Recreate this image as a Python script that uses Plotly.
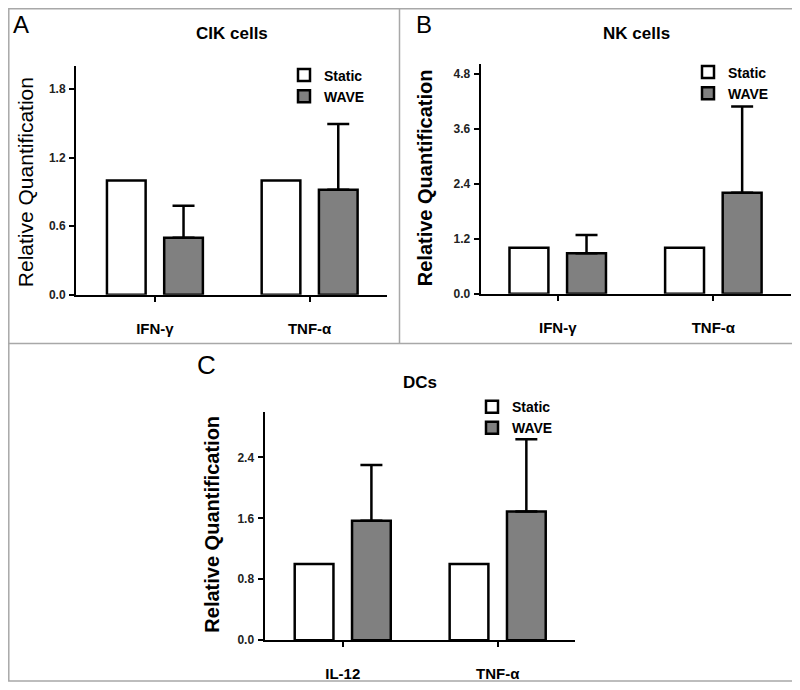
import plotly.graph_objects as go

# ---- data ----
cats_A = ["IFN-γ", "TNF-α"]
static_A = [1.0, 1.0]
wave_A = [0.50, 0.92]
wave_err_A = [0.28, 0.575]

cats_B = ["IFN-γ", "TNF-α"]
static_B = [1.0, 1.0]
wave_B = [0.88, 2.20]
wave_err_B = [0.40, 1.88]

cats_C = ["IL-12", "TNF-α"]
static_C = [1.0, 1.0]
wave_C = [1.57, 1.69]
wave_err_C = [0.73, 0.95]

ticks_A = [0.0, 0.6, 1.2, 1.8]
ticks_B = [0.0, 1.2, 2.4, 3.6, 4.8]
ticks_C = [0.0, 0.8, 1.6, 2.4]

# the page body has an 8px default margin: size the figure to fill the rest
OFF = 8
W, H = 800 - OFF, 690 - OFF
def px(x): return (x - OFF) / W
def py(y): return (690 - y) / H

NARROW = "Liberation Sans Narrow, Arial Narrow, Liberation Sans, Arial"
SANS = "Liberation Sans, Arial"
GRAY = "#808080"

fig = go.Figure()

panels = [
    ("x", "y", "legend", "A", cats_A, static_A, wave_A, wave_err_A),
    ("x2", "y2", "legend2", "B", cats_B, static_B, wave_B, wave_err_B),
    ("x3", "y3", "legend3", "C", cats_C, static_C, wave_C, wave_err_C),
]
for xa, ya, lg, tag, cats, st, wv, er in panels:
    fig.add_trace(go.Bar(
        x=cats, y=st, name="Static", xaxis=xa, yaxis=ya, legend=lg,
        legendgroup=tag + "s",
        offset=-0.31, width=0.25,
        marker=dict(color="white", line=dict(color="black", width=2.5)),
    ))
    fig.add_trace(go.Bar(
        x=cats, y=wv, name="WAVE", xaxis=xa, yaxis=ya, legend=lg,
        legendgroup=tag + "w",
        offset=0.06, width=0.25,
        marker=dict(color=GRAY, line=dict(color="black", width=2.5)),
        error_y=dict(type="data", array=er, arrayminus=[0] * len(er),
                     symmetric=False, color="black", thickness=2.5, width=11),
    ))

def xaxis(domain, rng, anchor):
    return dict(domain=domain, range=rng, anchor=anchor, type="category",
                showline=True, linecolor="black", linewidth=2,
                ticks="outside", ticklen=5, tickwidth=2, tickcolor="black",
                ticklabelstandoff=14,
                tickfont=dict(family=SANS, size=15, color="black", weight="bold"),
                showgrid=False, zeroline=False, fixedrange=True)

def yaxis(domain, rng, anchor, tv):
    return dict(domain=domain, range=rng, anchor=anchor,
                tickvals=tv, ticktext=[f"{v:.1f}" for v in tv],
                showline=True, linecolor="black", linewidth=2,
                ticks="outside", ticklen=5, tickwidth=1.5, tickcolor="black",
                ticklabelstandoff=1,
                tickfont=dict(family=NARROW, size=12, color="#222", weight="bold"),
                showgrid=False, zeroline=False, fixedrange=True)

legend_common = dict(bgcolor="rgba(0,0,0,0)", borderwidth=0,
                     font=dict(family=NARROW, size=14, color="black", weight="bold"),
                     xanchor="left", yanchor="top", orientation="v",
                     tracegroupgap=0,
                     itemclick=False, itemdoubleclick=False)

fig.update_layout(
    width=W, height=H,
    margin=dict(l=0, r=0, t=0, b=0),
    paper_bgcolor="white", plot_bgcolor="white",
    barmode="overlay",
    xaxis=xaxis([px(76), px(387)], [-0.51, 1.5], "y"),
    yaxis=yaxis([py(297.7), py(67)], [0, 2.0], "x", ticks_A),
    xaxis2=xaxis([px(480.7), px(790.7)], [-0.495, 1.497], "y2"),
    yaxis2=yaxis([py(296.7), py(65)], [0, 5.0], "x2", ticks_B),
    xaxis3=xaxis([px(264.5), px(575)], [-0.505, 1.499], "y3"),
    yaxis3=yaxis([py(646.7), py(416)], [0, 3.0], "x3", ticks_C),
    legend=dict(legend_common, x=px(284), y=py(60)),
    legend2=dict(legend_common, x=px(688), y=py(57)),
    legend3=dict(legend_common, x=px(472), y=py(395)),
    showlegend=True,
)

# titles, panel letters, axis titles
ann = []
def add_text(text, x, y, size, weight="normal", family=SANS, angle=0):
    ann.append(dict(text=text, x=px(x), y=py(y), xref="paper", yref="paper",
                    xanchor="center", yanchor="middle", showarrow=False,
                    textangle=angle,
                    font=dict(family=family, size=size, color="black", weight=weight)))

add_text("A", 21, 25, 24)
add_text("B", 424, 25, 24)
add_text("C", 206, 369, 26)
add_text("CIK cells", 232, 34, 17, "bold")
add_text("NK cells", 636, 34, 17, "bold")
add_text("DCs", 420, 386, 17, "bold")
add_text("Relative Quantification", 25, 184, 21, "normal", angle=-90)
add_text("Relative Quantification", 425, 180, 20, "bold", angle=-90)
add_text("Relative Quantification", 212, 530, 20, "bold", angle=-90)
fig.update_layout(annotations=ann)

# panel border lines
border = "#a8a8a8"
fig.update_layout(shapes=[
    dict(type="rect", xref="paper", yref="paper", x0=0.001, x1=px(797.5),
         y0=py(688), y1=0.999, line=dict(color=border, width=1.5)),
    dict(type="line", xref="paper", yref="paper", x0=px(399.5), x1=px(399.5),
         y0=1, y1=py(347), line=dict(color=border, width=1.5)),
    dict(type="line", xref="paper", yref="paper", x0=0, x1=1,
         y0=py(347), y1=py(347), line=dict(color=border, width=1.5)),
])

fig.write_html("out.html")
